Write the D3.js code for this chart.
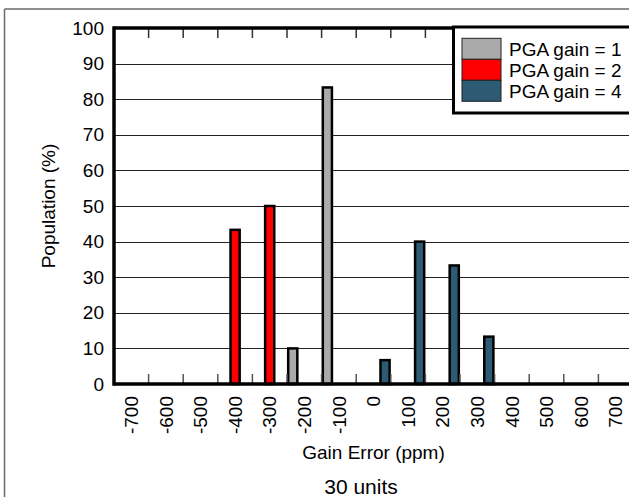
<!DOCTYPE html>
<html><head><meta charset="utf-8">
<script src="https://cdn.jsdelivr.net/npm/d3@7"></script>
<style>
html,body{margin:0;padding:0;background:#fff;}
svg{display:block;font-family:"Liberation Sans",Arial,sans-serif;}
</style></head>
<body><svg id="c" width="629" height="497"></svg>
<script>
const categories = [-700,-600,-500,-400,-300,-200,-100,0,100,200,300,400,500,600,700];
const seriesNames = ["PGA gain = 1","PGA gain = 2","PGA gain = 4"];
const gain1 = [0,0,0,0,0,10,83.3,0,0,0,0,0,0,0,0];
const gain2 = [0,0,0,43.3,50,0,0,0,0,0,0,0,0,0,0];
const gain4 = [0,0,0,0,0,0,0,6.7,40,33.3,13.3,0,0,0,0];
const yTicks = [0,10,20,30,40,50,60,70,80,90,100];
const colors = ["#aaaaaa","#ff0000","#2c5b73"];
const seriesData = [gain1,gain2,gain4];

const svg = d3.select("#c");
const pLeft = 114, pTop = 28, pBottom = 384, bandW = 34.6;
const pRight = pLeft + bandW*categories.length;

const x = d3.scaleBand().domain(categories).range([pLeft,pRight]).padding(0);
const xs = d3.scaleBand().domain([0,1,2]).range([0,x.bandwidth()]).padding(0);
const y = d3.scaleLinear().domain([0,100]).range([pBottom,pTop]);

// outer frame
svg.append("line").attr("x1",4.5).attr("x2",629).attr("y1",9).attr("y2",9).attr("stroke","#6a6a6a").attr("stroke-width",1.5);
svg.append("line").attr("x1",4.5).attr("x2",4.5).attr("y1",9).attr("y2",497).attr("stroke","#6a6a6a").attr("stroke-width",1.5);

// gridlines
svg.append("g").selectAll("line").data(yTicks.filter(d=>d>0&&d<100)).join("line")
  .attr("x1",pLeft).attr("x2",pRight).attr("y1",d=>Math.round(y(d))+0.5).attr("y2",d=>Math.round(y(d))+0.5)
  .attr("stroke","#222").attr("stroke-width",1);

// bars
seriesData.forEach((vals,si)=>{
  svg.append("g").selectAll("rect").data(categories.map((c,i)=>({c,v:vals[i]})).filter(d=>d.v>0)).join("rect")
    .attr("x",d=>x(d.c)+xs(si)+1.2)
    .attr("width",xs.bandwidth()-2.4)
    .attr("y",d=>y(d.v))
    .attr("height",d=>pBottom-y(d.v))
    .attr("fill",colors[si]).attr("stroke","#000").attr("stroke-width",2.5);
});

// boundary ticks
const bounds = categories.slice(1).map(c=>x(c));
svg.append("g").selectAll("line").data(bounds).join("line")
  .attr("x1",d=>d).attr("x2",d=>d).attr("y1",pBottom).attr("y2",pBottom-10)
  .attr("stroke","#555").attr("stroke-width",1.5);
svg.append("g").selectAll("line").data(bounds).join("line")
  .attr("x1",d=>d).attr("x2",d=>d).attr("y1",pTop).attr("y2",pTop+10)
  .attr("stroke","#333").attr("stroke-width",1.5);

// spines
svg.append("line").attr("x1",pLeft).attr("x2",pRight).attr("y1",pTop).attr("y2",pTop).attr("stroke","#000").attr("stroke-width",3.5);
svg.append("line").attr("x1",pLeft).attr("x2",pRight).attr("y1",pBottom).attr("y2",pBottom).attr("stroke","#000").attr("stroke-width",3.5);
svg.append("line").attr("x1",pLeft).attr("x2",pLeft).attr("y1",pTop-1.75).attr("y2",pBottom+1.75).attr("stroke","#000").attr("stroke-width",3.5);

// y axis labels
const yAxis = svg.append("g").attr("transform",`translate(${pLeft-10},0)`)
  .call(d3.axisLeft(y).tickValues(yTicks).tickSize(0).tickPadding(0));
yAxis.select(".domain").remove();
yAxis.selectAll("text").attr("font-size",19).attr("fill","#000").attr("font-family","Liberation Sans, Arial, sans-serif");

// x axis labels
const xAxis = svg.append("g").attr("transform",`translate(0,${pBottom+12})`)
  .call(d3.axisBottom(x).tickSize(0).tickPadding(0));
xAxis.select(".domain").remove();
xAxis.selectAll("text").attr("font-size",19).attr("fill","#000").attr("font-family","Liberation Sans, Arial, sans-serif")
  .attr("transform","rotate(-90)").attr("text-anchor","end").attr("x",0).attr("y",0).attr("dy","0.35em");

// axis titles
svg.append("text").attr("transform",`translate(55,${(pTop+pBottom)/2}) rotate(-90)`).attr("text-anchor","middle")
  .attr("font-size",19).text("Population (%)");
svg.append("text").attr("x",(pLeft+pRight)/2).attr("y",459).attr("text-anchor","middle").attr("font-size",19).text("Gain Error (ppm)");
svg.append("text").attr("x",361).attr("y",494).attr("text-anchor","middle").attr("font-size",21).text("30 units");

// legend
const lg = svg.append("g");
lg.append("rect").attr("x",453.5).attr("y",27).attr("width",200).attr("height",86).attr("fill","#fff").attr("stroke","#000").attr("stroke-width",3);
seriesNames.forEach((n,i)=>{
  const sy = 38.3 + i*21;
  lg.append("rect").attr("x",462).attr("y",sy).attr("width",39).attr("height",21).attr("fill",colors[i]).attr("stroke","#222").attr("stroke-width",1);
  lg.append("text").attr("x",509).attr("y",sy+10.5).attr("dy","0.36em").attr("font-size",19).text(n);
});
</script></body></html>
